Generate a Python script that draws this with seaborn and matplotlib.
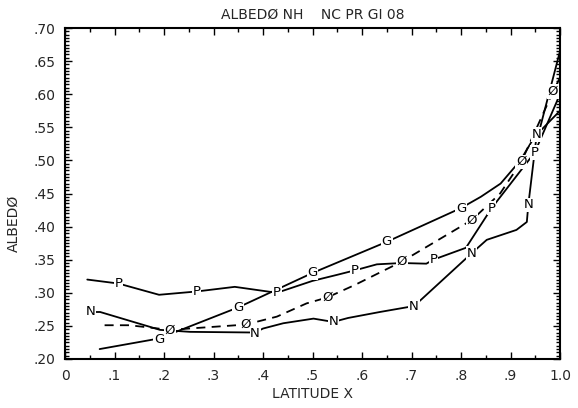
import matplotlib
matplotlib.use("Agg")
import matplotlib.pyplot as plt
import numpy as np
import pandas as pd
import seaborn as sns
from matplotlib.ticker import MultipleLocator, FixedLocator, FixedFormatter

# ---- data ----
g_lat = [0.07, 0.19, 0.35, 0.50, 0.65, 0.80, 0.84, 0.88, 0.92, 0.96, 1.00]
g_alb = [0.215, 0.231, 0.278, 0.330, 0.377, 0.428, 0.445, 0.465, 0.500, 0.550, 0.665]
g_mark_lat = [0.19, 0.35, 0.50, 0.65, 0.80]
g_mark_alb = [0.229, 0.278, 0.330, 0.377, 0.428]

p_lat = [0.045, 0.108, 0.19, 0.266, 0.343, 0.428, 0.50, 0.549, 0.586, 0.63, 0.68, 0.73, 0.744, 0.81, 0.862, 0.949, 1.00]
p_alb = [0.320, 0.314, 0.297, 0.302, 0.309, 0.300, 0.318, 0.327, 0.334, 0.343, 0.345, 0.344, 0.350, 0.368, 0.428, 0.512, 0.600]
p_mark_lat = [0.108, 0.266, 0.428, 0.586, 0.744, 0.862, 0.949]
p_mark_alb = [0.314, 0.302, 0.300, 0.334, 0.350, 0.428, 0.512]

o_lat = [0.08, 0.13, 0.212, 0.365, 0.428, 0.488, 0.530, 0.586, 0.68, 0.822, 0.879, 0.922, 0.986, 1.00]
o_alb = [0.251, 0.251, 0.244, 0.252, 0.264, 0.284, 0.293, 0.312, 0.347, 0.410, 0.450, 0.498, 0.604, 0.625]
o_mark_lat = [0.212, 0.365, 0.530, 0.68, 0.822, 0.922, 0.986]
o_mark_alb = [0.244, 0.253, 0.293, 0.347, 0.410, 0.498, 0.604]

n_lat = [0.051, 0.071, 0.192, 0.253, 0.384, 0.40, 0.441, 0.502, 0.542, 0.572, 0.636, 0.705, 0.72, 0.822, 0.852, 0.912, 0.933, 0.936, 0.953, 1.00]
n_alb = [0.271, 0.271, 0.244, 0.241, 0.240, 0.246, 0.254, 0.261, 0.256, 0.262, 0.271, 0.280, 0.290, 0.360, 0.380, 0.395, 0.407, 0.433, 0.539, 0.575]
n_mark_lat = [0.051, 0.384, 0.542, 0.705, 0.822, 0.936, 0.953]
n_mark_alb = [0.271, 0.238, 0.256, 0.280, 0.360, 0.433, 0.539]

x_ticks = [0.0, 0.1, 0.2, 0.3, 0.4, 0.5, 0.6, 0.7, 0.8, 0.9, 1.0]
x_tick_labels = ["0", ".1", ".2", ".3", ".4", ".5", ".6", ".7", ".8", ".9", "1.0"]
y_ticks = [0.20, 0.25, 0.30, 0.35, 0.40, 0.45, 0.50, 0.55, 0.60, 0.65, 0.70]
y_tick_labels = [".20", ".25", ".30", ".35", ".40", ".45", ".50", ".55", ".60", ".65", ".70"]

# ---- style ----
sns.set_style("ticks")
plt.rcParams['font.family'] = ['DejaVu Sans']

fig = plt.figure(figsize=(5.78, 4.08), dpi=100)
ax = fig.add_axes([65 / 578, 1 - 359 / 408, 495 / 578, 331 / 408])

series = [("G", g_lat, g_alb), ("P", p_lat, p_alb), ("Ø", o_lat, o_alb), ("N", n_lat, n_alb)]
df = pd.concat([pd.DataFrame({"lat": xs, "albedo": ys, "series": name}) for name, xs, ys in series],
               ignore_index=True)

sns.lineplot(data=df, x="lat", y="albedo", hue="series", style="series",
             palette={"G": "black", "P": "black", "Ø": "black", "N": "black"},
             dashes={"G": "", "P": "", "Ø": (5, 3.5), "N": ""},
             sort=False, estimator=None, legend=False, linewidth=1.3, ax=ax)

marks = [("G", g_mark_lat, g_mark_alb), ("P", p_mark_lat, p_mark_alb),
         ("Ø", o_mark_lat, o_mark_alb), ("N", n_mark_lat, n_mark_alb)]
for letter, mx, my in marks:
    for xv, yv in zip(mx, my):
        ax.text(xv, yv, letter, ha="center", va="center", fontsize=9.5, color="black",
                zorder=5, bbox=dict(facecolor="white", edgecolor="none", pad=0.5))

ax.set_xlim(0, 1.0)
ax.set_ylim(0.20, 0.70)
ax.xaxis.set_major_locator(FixedLocator(x_ticks))
ax.xaxis.set_major_formatter(FixedFormatter(x_tick_labels))
ax.xaxis.set_minor_locator(MultipleLocator(0.05))
ax.yaxis.set_major_locator(FixedLocator(y_ticks))
ax.yaxis.set_major_formatter(FixedFormatter(y_tick_labels))
ax.yaxis.set_minor_locator(MultipleLocator(0.005))

ax.tick_params(which="both", direction="in", top=True, right=True, color="black", width=1.0)
ax.tick_params(which="major", length=5, labelsize=10, pad=7)
ax.tick_params(which="minor", length=3)
for sp in ax.spines.values():
    sp.set_linewidth(1.5)
    sp.set_color("black")

ax.set_xlabel("LATITUDE X", fontsize=10, labelpad=3)
ax.set_ylabel("ALBEDØ", fontsize=10)
ax.yaxis.set_label_coords(-0.09, 0.41)
ax.set_title("ALBEDØ NH    NC PR GI 08", fontsize=10, pad=7)

fig.savefig("out.png", dpi=100)
